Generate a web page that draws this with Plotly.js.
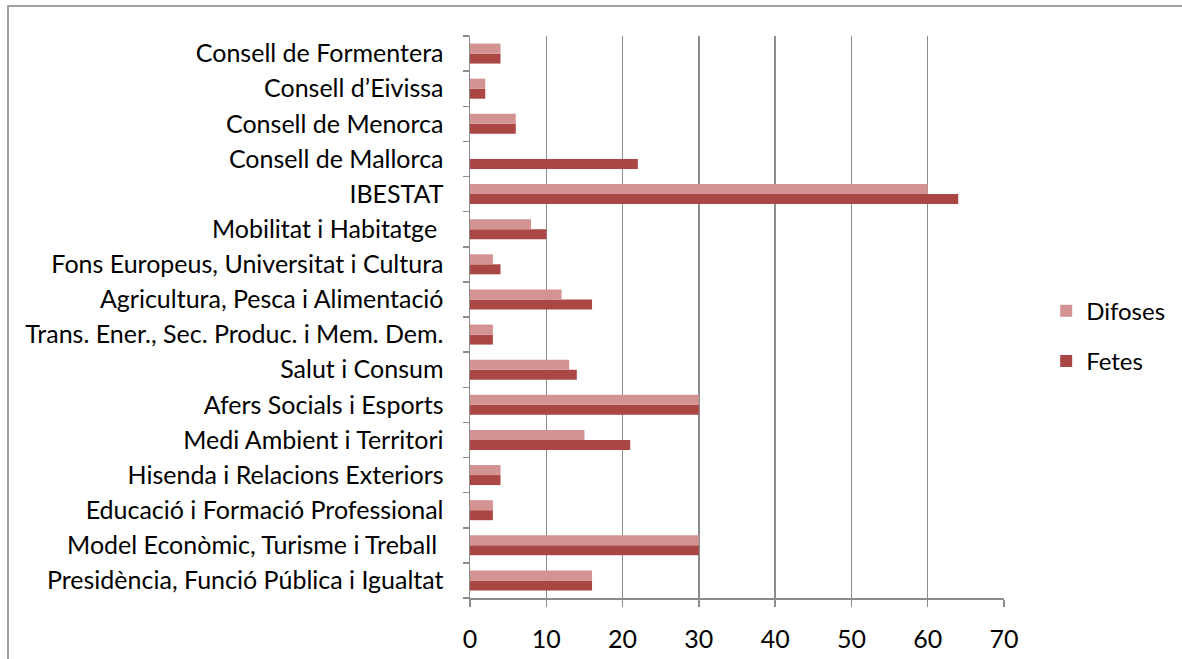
<!DOCTYPE html>
<html>
<head>
<meta charset="utf-8">
<script src="https://cdn.plot.ly/plotly-3.0.1.min.js"></script>
<style>
  html, body { margin: 0; padding: 0; background: #fff; }
  #wrap { position: relative; width: 1182px; height: 659px; }
  #myDiv { width: 1182px; height: 659px; }
  #frame {
    position: absolute; left: 7px; top: 5px; right: 0; bottom: 0;
    border-top: 2px solid #a0a0a0; border-left: 2px solid #a0a0a0;
    pointer-events: none;
  }
</style>
</head>
<body>
<div id="wrap">
  <div id="myDiv"></div>
  <div id="frame"></div>
</div>
<script>
// categories from bottom to top, as in the chart
var categories = [
  'Presidència, Funció Pública i Igualtat',
  'Model Econòmic, Turisme i Treball ',
  'Educació i Formació Professional',
  'Hisenda i Relacions Exteriors',
  'Medi Ambient i Territori',
  'Afers Socials i Esports',
  'Salut i Consum',
  'Trans. Ener., Sec. Produc. i Mem. Dem.',
  'Agricultura, Pesca i Alimentació',
  'Fons Europeus, Universitat i Cultura',
  'Mobilitat i Habitatge ',
  'IBESTAT',
  'Consell de Mallorca',
  'Consell de Menorca',
  'Consell d\u2019Eivissa',
  'Consell de Formentera'
];

var difoses = [16, 30, 3, 4, 15, 30, 13, 3, 12, 3, 8, 60, 0, 6, 2, 4];
var fetes   = [16, 30, 3, 4, 21, 30, 14, 3, 16, 4, 10, 64, 22, 6, 2, 4];

var xTicks = [0, 10, 20, 30, 40, 50, 60, 70];

var fontFamily = 'Lato, "Liberation Sans", sans-serif';

// Fetes first so that Difoses sits above it in each group
var traceFetes = {
  y: categories,
  x: fetes,
  name: 'Fetes',
  type: 'bar',
  orientation: 'h',
  legendgroup: 'b',
  legendrank: 2,
  marker: {color: '#aa4644', line: {width: 0}},
  hoverinfo: 'x+name'
};

var traceDifoses = {
  y: categories,
  x: difoses,
  name: 'Difoses',
  type: 'bar',
  orientation: 'h',
  legendgroup: 'a',
  legendrank: 1,
  marker: {color: '#d39392', line: {width: 0}},
  hoverinfo: 'x+name'
};

var data = [traceFetes, traceDifoses];

var layout = {
  width: 1182,
  height: 659,
  margin: {l: 470, r: 178, t: 36, b: 61},
  paper_bgcolor: '#fff',
  plot_bgcolor: '#fff',
  barmode: 'group',
  bargap: 0.43,
  bargroupgap: 0,
  font: {family: fontFamily, size: 25, color: '#000'},
  showlegend: true,
  legend: {
    x: 1.079, xanchor: 'left',
    y: 0.466, yanchor: 'middle',
    traceorder: 'grouped',
    tracegroupgap: 16,
    font: {family: fontFamily, size: 24, color: '#000'},
    itemwidth: 30
  },
  xaxis: {
    range: [0, 70],
    tickvals: xTicks,
    ticktext: xTicks.map(String),
    showgrid: true,
    gridcolor: '#8c8c8c',
    gridwidth: 1.5,
    zeroline: false,
    showline: true,
    linecolor: '#8c8c8c',
    linewidth: 1.5,
    ticks: 'outside',
    ticklen: 7,
    tickcolor: '#8c8c8c',
    tickwidth: 1.5,
    ticklabelstandoff: 11,
    fixedrange: true
  },
  yaxis: {
    type: 'category',
    categoryorder: 'array',
    categoryarray: categories,
    tickson: 'boundaries',
    showgrid: false,
    showline: true,
    linecolor: '#8c8c8c',
    linewidth: 1.5,
    ticks: 'outside',
    ticklen: 6,
    tickcolor: '#8c8c8c',
    tickwidth: 1.5,
    ticklabelstandoff: 20,
    automargin: false,
    fixedrange: true
  }
};

Plotly.newPlot('myDiv', data, layout, {displayModeBar: false, staticPlot: true});
</script>
</body>
</html>
